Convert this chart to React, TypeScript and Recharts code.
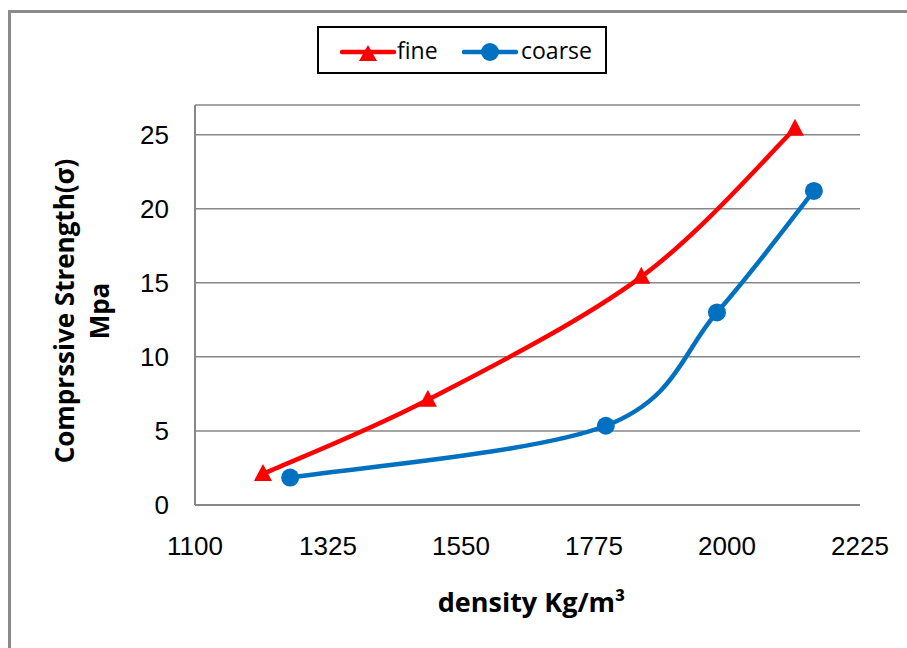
import React from 'react';
import { LineChart, Line, XAxis, YAxis, CartesianGrid, Legend, Label } from 'recharts';

// values
const fineDensity = [1215, 1494, 1855, 2115];
const fineStrength = [2.1, 7.1, 15.4, 25.4];
const coarseDensity = [1261, 1795, 1983, 2147];
const coarseStrength = [1.85, 5.35, 13.0, 21.2];
const xTicks = [1100, 1325, 1550, 1775, 2000, 2225];
const yTicks = [0, 5, 10, 15, 20, 25];

const fineData = fineDensity.map((x, i) => ({ x, y: fineStrength[i] }));
const coarseData = coarseDensity.map((x, i) => ({ x, y: coarseStrength[i] }));

const RED = '#FF0000';
const BLUE = '#0070C0';
const GRID = '#878787';
const TITLE_FONT = '"Open Sans", sans-serif';
const TICK_FONT = '"Liberation Sans", Arial, sans-serif';

// Excel-like smoothed line (Catmull-Rom, 1/6 control points)
const excelSmooth = (context: any) => {
  let pts: number[][] = [];
  return {
    areaStart() {},
    areaEnd() {},
    lineStart() {
      pts = [];
    },
    point(x: number, y: number) {
      pts.push([+x, +y]);
    },
    lineEnd() {
      if (!pts.length) return;
      context.moveTo(pts[0][0], pts[0][1]);
      for (let i = 0; i < pts.length - 1; i++) {
        const p0 = pts[Math.max(i - 1, 0)];
        const p1 = pts[i];
        const p2 = pts[i + 1];
        const p3 = pts[Math.min(i + 2, pts.length - 1)];
        context.bezierCurveTo(
          p1[0] + (p2[0] - p0[0]) / 6,
          p1[1] + (p2[1] - p0[1]) / 6,
          p2[0] - (p3[0] - p1[0]) / 6,
          p2[1] - (p3[1] - p1[1]) / 6,
          p2[0],
          p2[1]
        );
      }
    },
  };
};

const TriangleDot = (props: any) => {
  const { cx, cy } = props;
  if (cx == null || cy == null) return null;
  return (
    <polygon
      key={`t-${cx}-${cy}`}
      points={`${cx},${cy - 10} ${cx - 9},${cy + 7} ${cx + 9},${cy + 7}`}
      fill={RED}
    />
  );
};

const YTitle = (props: any) => {
  const { x, y, height } = props.viewBox;
  const cy = y + height / 2 + 6;
  const b1 = x + 54;
  const b2 = x + 89;
  const style = { fontFamily: TITLE_FONT, fontWeight: 700, fontSize: 26, fill: '#000' };
  return (
    <g>
      <text x={b1} y={cy} textAnchor="middle" transform={`rotate(-90, ${b1}, ${cy})`} style={style}>
        Comprssive Strength(σ)
      </text>
      <text x={b2} y={cy} textAnchor="middle" transform={`rotate(-90, ${b2}, ${cy})`} style={style}>
        Mpa
      </text>
    </g>
  );
};

const XTitle = (props: any) => {
  const { x, y, width } = props.viewBox;
  return (
    <text
      x={x + width / 2 + 4}
      y={y + 107}
      textAnchor="middle"
      style={{ fontFamily: TITLE_FONT, fontWeight: 700, fontSize: 27, fill: '#000' }}
    >
      density Kg/m³
    </text>
  );
};

const LegendBox = () => {
  const text = { position: 'absolute' as const, top: 6, lineHeight: '32px', fontSize: 23, fontFamily: TITLE_FONT, color: '#000' };
  return (
    <div
      style={{
        position: 'relative',
        width: 290,
        height: 48,
        boxSizing: 'border-box',
        border: '2px solid #000',
        background: '#fff',
      }}
    >
      <svg style={{ position: 'absolute', left: 21, top: 10 }} width={56} height={26}>
        <line x1={2} y1={14} x2={54} y2={14} stroke={RED} strokeWidth={4.5} strokeLinecap="round" />
        <polygon points="28,7 19,23 37,23" fill={RED} />
      </svg>
      <span style={{ ...text, left: 78 }}>fine</span>
      <svg style={{ position: 'absolute', left: 143, top: 10 }} width={56} height={26}>
        <line x1={2} y1={14} x2={54} y2={14} stroke={BLUE} strokeWidth={4.5} strokeLinecap="round" />
        <circle cx={28} cy={14} r={9} fill={BLUE} />
      </svg>
      <span style={{ ...text, left: 202 }}>coarse</span>
    </div>
  );
};

export default function App() {
  return (
    <div style={{ position: 'absolute', left: 0, top: 0, width: 907, height: 648, background: '#fff' }}>
      <div
        style={{
          position: 'absolute',
          left: 8,
          top: 10,
          width: 899,
          height: 638,
          boxSizing: 'border-box',
          borderLeft: '3px solid #8a8a8a',
          borderTop: '3px solid #8a8a8a',
        }}
      />
      <LineChart width={907} height={648} margin={{ top: 105, right: 47, bottom: 33, left: 20 }}>
        <CartesianGrid horizontal vertical={false} stroke={GRID} strokeWidth={1.5} />
        <XAxis
          type="number"
          dataKey="x"
          domain={[1100, 2225]}
          ticks={xTicks}
          height={110}
          tickSize={0}
          tickMargin={32}
          tickLine={false}
          axisLine={{ stroke: GRID, strokeWidth: 2 }}
          tick={{ fill: '#000', fontSize: 26, fontFamily: TICK_FONT }}
        >
          <Label content={<XTitle />} />
        </XAxis>
        <XAxis
          xAxisId="top"
          orientation="top"
          type="number"
          domain={[1100, 2225]}
          height={0}
          tick={false}
          tickLine={false}
          axisLine={{ stroke: '#000', strokeWidth: 2 }}
        />
        <YAxis
          type="number"
          dataKey="y"
          domain={[0, 27]}
          ticks={yTicks}
          width={175}
          tickSize={0}
          tickMargin={26}
          tickLine={false}
          axisLine={{ stroke: GRID, strokeWidth: 2 }}
          tick={{ fill: '#000', fontSize: 26, fontFamily: TICK_FONT }}
        >
          <Label content={<YTitle />} />
        </YAxis>
        <YAxis
          yAxisId="right"
          orientation="right"
          type="number"
          domain={[0, 27]}
          width={0}
          tick={false}
          tickLine={false}
          axisLine={{ stroke: '#000', strokeWidth: 2 }}
        />
        <Legend
          verticalAlign="middle"
          content={<LegendBox />}
          wrapperStyle={{ left: 317, top: 26, width: 290, height: 48, bottom: 'auto' }}
        />
        <Line
          name="fine"
          data={fineData}
          dataKey="y"
          type={excelSmooth as any}
          stroke={RED}
          strokeWidth={4.5}
          dot={<TriangleDot />}
          activeDot={false}
          isAnimationActive={false}
        />
        <Line
          name="coarse"
          data={coarseData}
          dataKey="y"
          type={excelSmooth as any}
          stroke={BLUE}
          strokeWidth={4.5}
          dot={{ r: 9, fill: BLUE, stroke: 'none', strokeWidth: 0 }}
          activeDot={false}
          isAnimationActive={false}
        />
      </LineChart>
    </div>
  );
}
